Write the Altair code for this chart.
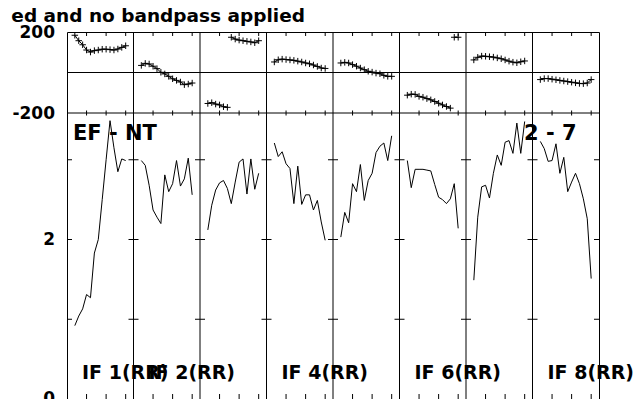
import altair as alt
import pandas as pd

# ---------------- data ----------------
channels = list(range(2, 16))
panels = list(range(8))

amp_if1 = [0.92, 1.04, 1.13, 1.31, 1.27, 1.83, 2.00, 2.50, 3.00, 3.49, 3.15, 2.85, 3.01, 2.99]
amp_if2 = [2.99, 2.93, 2.68, 2.37, 2.28, 2.20, 2.81, 2.60, 2.70, 2.99, 2.67, 2.76, 3.02, 2.56]
amp_if3 = [2.12, 2.43, 2.62, 2.71, 2.74, 2.64, 2.45, 2.72, 2.97, 3.01, 2.57, 3.01, 2.63, 2.83]
amp_if4 = [3.21, 3.04, 3.10, 2.95, 2.89, 2.45, 2.92, 2.44, 2.56, 2.56, 2.37, 2.49, 2.22, 1.99]
amp_if5 = [2.03, 2.34, 2.21, 2.70, 2.60, 2.94, 2.49, 2.74, 2.83, 3.09, 3.17, 3.21, 2.99, 3.30]
amp_if6 = [2.99, 2.65, 2.88, 2.88, 2.88, 2.87, 2.86, 2.69, 2.53, 2.50, 2.45, 2.51, 2.70, 2.14]
amp_if7 = [1.49, 2.28, 2.66, 2.68, 2.52, 2.83, 3.06, 2.93, 3.22, 3.24, 3.08, 3.46, 3.08, 3.48]
amp_if8 = [3.23, 3.14, 2.98, 2.99, 3.20, 2.83, 3.03, 2.60, 2.72, 2.83, 2.70, 2.51, 2.26, 1.51]

phase_if1 = [184, 157, 137, 111, 101, 108, 111, 115, 115, 113, 111, 116, 124, 132]
phase_if2 = [35, 45, 42, 31, 19, 1, -7, -19, -31, -39, -47, -60, -57, -52]
phase_if3 = [-153, -149, -156, -160, -169, -172, 174, 165, 160, 157, 154, 151, 147, 157]
phase_if4 = [52, 63, 66, 64, 62, 60, 56, 52, 47, 43, 37, 30, 22, 20]
phase_if5 = [47, 50, 47, 39, 31, 22, 14, 6, 2, -3, -6, -14, -19, -19]
phase_if6 = [-112, -107, -108, -118, -122, -129, -135, -143, -152, -160, -168, -176, 174, 174]
phase_if7 = [62, 75, 81, 80, 78, 76, 72, 68, 62, 56, 51, 48, 53, 57]
phase_if8 = [-35, -30, -30, -33, -36, -39, -42, -45, -48, -51, -54, -55, -52, -35]

x_tick_channels = [5, 10, 15]
amp_tick_values = [1, 2, 3]
phase_label_values = [200, -200]
amp_label_values = [0, 2]
if_label_texts = ["IF 1(RR)", "IF 2(RR)", "IF 4(RR)", "IF 6(RR)", "IF 8(RR)"]
if_label_panels = [0, 1, 3, 5, 7]
baseline_left = "EF - NT"
baseline_right = "2 - 7"
title_text = "ed and no bandpass applied"

amps = [amp_if1, amp_if2, amp_if3, amp_if4, amp_if5, amp_if6, amp_if7, amp_if8]
phases = [phase_if1, phase_if2, phase_if3, phase_if4, phase_if5, phase_if6, phase_if7, phase_if8]

# ---------------- layout ----------------
N_CH = 17          # channel slots per panel
W, H, HP = 532, 367, 81
AMP_MAX = (H - HP) / 79.75
FONT = "DejaVu Sans"

amp_rows, ph_rows = [], []
for p in panels:
    for c, a in zip(channels, amps[p]):
        amp_rows.append({"panel": p, "ch": c, "amp": a})
    seg, prev = 0, None
    for c, v in zip(channels, phases[p]):
        if prev is not None and abs(v - prev) > 180:
            seg += 1
        prev = v
        ph_rows.append({"panel": p, "ch": c, "phase": v, "seg": f"{p}-{seg}"})
df_amp = pd.DataFrame(amp_rows)
df_ph = pd.DataFrame(ph_rows)

df_border = pd.DataFrame({"b": list(range(1, 8))})
df_xt = pd.DataFrame([{"panel": p, "ch": t} for p in panels for t in x_tick_channels])
ytick_rows = []
for b in range(9):
    shape = "M0,0H1" if b == 0 else ("M-1,0H0" if b == 8 else "M-1,0H1")
    for t in amp_tick_values:
        ytick_rows.append({"b": b, "amp": t, "shape": shape})
df_yt = pd.DataFrame(ytick_rows)
df_hrule = pd.DataFrame({"v": [0, -200]})
df_phlab = pd.DataFrame({"v": phase_label_values, "t": [str(v) for v in phase_label_values]})
df_amplab = pd.DataFrame({"v": amp_label_values, "t": [str(v) for v in amp_label_values]})
df_iflab = pd.DataFrame({"panel": if_label_panels, "t": if_label_texts})

x_scale = alt.Scale(domain=[0, 8 * N_CH], nice=False, zero=False)
ph_scale = alt.Scale(domain=[-200, 200], range=[HP, 0], nice=False, zero=False)
amp_scale = alt.Scale(domain=[0, AMP_MAX], range=[H, HP], nice=False, zero=False)
pos_expr = f"datum.panel*{N_CH}+datum.ch"
X = alt.X("pos:Q", scale=x_scale, axis=None)

amp_line = alt.Chart(df_amp).transform_calculate(pos=pos_expr).mark_line(
    color="black", strokeWidth=1).encode(
    x=X, y=alt.Y("amp:Q", scale=amp_scale, axis=None), detail="panel:N")

ph_line = alt.Chart(df_ph).transform_calculate(pos=pos_expr).mark_line(
    color="black", strokeWidth=1).encode(
    x=X, y=alt.Y("phase:Q", scale=ph_scale, axis=None), detail="seg:N")

ph_pts = alt.Chart(df_ph).transform_calculate(pos=pos_expr).mark_point(
    shape="M-1,0H1M0,-1V1", size=42, color="black", strokeWidth=1, opacity=1).encode(
    x=X, y=alt.Y("phase:Q", scale=ph_scale, axis=None))

vrules = alt.Chart(df_border).transform_calculate(pos=f"datum.b*{N_CH}").mark_rule(
    color="black", strokeWidth=1).encode(x=X, y=alt.value(0), y2=alt.value(H))

hrules = alt.Chart(df_hrule).mark_rule(color="black", strokeWidth=1).encode(
    y=alt.Y("v:Q", scale=ph_scale, axis=None), x=alt.value(0), x2=alt.value(W))

xt_top = alt.Chart(df_xt).transform_calculate(pos=pos_expr).mark_point(
    shape="M0,0V1", size=64, color="black", strokeWidth=1, opacity=1).encode(
    x=X, y=alt.value(0))
xt_mid = alt.Chart(df_xt).transform_calculate(pos=pos_expr).mark_point(
    shape="M0,-1V1", size=25, color="black", strokeWidth=1, opacity=1).encode(
    x=X, y=alt.value(HP))
xt_bot = alt.Chart(df_xt).transform_calculate(pos=pos_expr).mark_point(
    shape="M0,-1V0", size=100, color="black", strokeWidth=1, opacity=1).encode(
    x=X, y=alt.value(H))

yt = alt.Chart(df_yt).transform_calculate(pos=f"datum.b*{N_CH}").mark_point(
    size=100, color="black", strokeWidth=1, opacity=1).encode(
    x=X, y=alt.Y("amp:Q", scale=amp_scale, axis=None),
    shape=alt.Shape("shape:N", scale=None, legend=None))

txt = dict(font=FONT, fontWeight="bold", color="black")
ph_lab = alt.Chart(df_phlab).mark_text(align="right", baseline="middle", fontSize=17, dx=-12, dy=1, **txt).encode(
    x=alt.value(0), y=alt.Y("v:Q", scale=ph_scale, axis=None), text="t:N")
amp_lab = alt.Chart(df_amplab).mark_text(align="right", baseline="middle", fontSize=17, dx=-12, **txt).encode(
    x=alt.value(0), y=alt.Y("v:Q", scale=amp_scale, axis=None), text="t:N")
if_lab = alt.Chart(df_iflab).transform_calculate(pos=f"datum.panel*{N_CH}").mark_text(
    align="left", baseline="alphabetic", fontSize=19, dx=15, **txt).encode(
    x=X, y=alt.value(H - 20), text="t:N")
bl_left = alt.Chart(pd.DataFrame({"t": [baseline_left]})).mark_text(
    align="left", baseline="alphabetic", fontSize=21, **txt).encode(
    x=alt.value(6), y=alt.value(108), text="t:N")
bl_right = alt.Chart(pd.DataFrame({"t": [baseline_right]})).mark_text(
    align="left", baseline="alphabetic", fontSize=21, **txt).encode(
    x=alt.value(457), y=alt.value(108), text="t:N")
title = alt.Chart(pd.DataFrame({"t": [title_text]})).mark_text(
    align="right", baseline="alphabetic", fontSize=18.5, **txt).encode(
    x=alt.value(238), y=alt.value(-10), text="t:N")

chart = alt.layer(
    vrules, hrules, xt_top, xt_mid, xt_bot, yt,
    amp_line, ph_line, ph_pts,
    ph_lab, amp_lab, if_lab, bl_left, bl_right, title,
).resolve_scale(y="independent").properties(
    width=W, height=H,
    autosize=alt.AutoSizeParams(type="none"),
    padding={"left": 59, "top": 24, "right": 35, "bottom": 0},
).configure_view(stroke="black", strokeWidth=1)

chart.save("out.html", embed_options={"renderer": "svg", "actions": False})
